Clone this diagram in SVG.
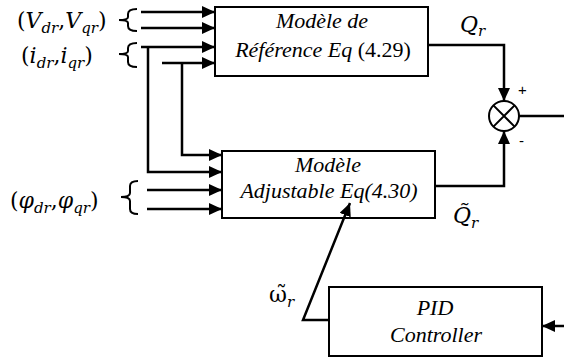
<svg xmlns="http://www.w3.org/2000/svg" width="564" height="358" viewBox="0 0 564 358">
<defs>
<marker id="ah" markerUnits="userSpaceOnUse" markerWidth="13" markerHeight="12" refX="13" refY="6" orient="auto">
<path d="M0,0 L13,6 L0,12 z" fill="#000"/>
</marker>
<style>
.box{fill:#fff;stroke:#000;stroke-width:2}
.ln{fill:none;stroke:#000;stroke-width:2.5}
.br{fill:none;stroke:#000;stroke-width:2}
.bt{font-size:22px;font-style:italic;text-anchor:middle;fill:#000}
.up{font-style:normal}
.m{font-size:22px;fill:#000}
.i{font-style:italic}
.s{font-size:15px;font-style:italic}
.sg{font-size:15px;fill:#000}
</style>
</defs>
<g id="label-v">
<text class="m" font-family="DejaVu Serif, serif" x="17" y="28">(<tspan class="i">V</tspan><tspan class="s" dy="5">dr</tspan><tspan dy="-5">,</tspan><tspan class="i">V</tspan><tspan class="s" dy="5">qr</tspan><tspan dy="-5">)</tspan></text>
</g>
<g id="label-i">
<text class="m" font-family="DejaVu Serif, serif" x="21" y="63">(<tspan class="i">i</tspan><tspan class="s" dy="5">dr</tspan><tspan dy="-5">,</tspan><tspan class="i">i</tspan><tspan class="s" dy="5">qr</tspan><tspan dy="-5">)</tspan></text>
</g>
<g id="label-phi">
<text class="m" font-family="DejaVu Serif, serif" x="10" y="208">(<tspan class="i">φ</tspan><tspan class="s" dy="5">dr</tspan><tspan dy="-5">,</tspan><tspan class="i">φ</tspan><tspan class="s" dy="5">qr</tspan><tspan dy="-5">)</tspan></text>
</g>
<g id="ref-model">
<rect class="box" x="215" y="7" width="213" height="69"/>
<text class="bt" font-family="Liberation Serif, serif" x="322" y="28">Modèle de</text>
<text class="bt" font-family="Liberation Serif, serif" x="323" y="57">Référence Eq <tspan class="up">(4.29)</tspan></text>
</g>
<g id="adj-model">
<rect class="box" x="222" y="151" width="213" height="67"/>
<text class="bt" font-family="Liberation Serif, serif" x="328" y="172">Modèle</text>
<text class="bt" font-family="Liberation Serif, serif" x="329" y="198">Adjustable Eq(4.30)</text>
</g>
<g id="pid">
<rect class="box" x="329" y="287" width="213" height="69"/>
<text class="bt" font-family="Liberation Serif, serif" x="435" y="315">PID</text>
<text class="bt" font-family="Liberation Serif, serif" x="436" y="342">Controller</text>
</g>
<g id="sum">
<circle cx="504" cy="116" r="15" fill="#fff" stroke="#000" stroke-width="2"/>
<path d="M493.4,105.4 L514.6,126.6 M514.6,105.4 L493.4,126.6" stroke="#000" stroke-width="2"/>
<text class="sg" font-family="Liberation Sans, sans-serif" x="518" y="95">+</text>
<text class="sg" font-family="Liberation Sans, sans-serif" x="519" y="146">-</text>
</g>
<g id="label-q">
<text class="m" font-family="DejaVu Serif, serif" x="460" y="32" font-size="19"><tspan class="i">Q</tspan><tspan class="s" dy="4" font-size="14">r</tspan></text>
</g>
<g id="label-qt">
<text class="m" font-family="DejaVu Serif, serif" x="453" y="223" font-size="27"><tspan class="i">Q̃</tspan><tspan class="s" dy="5" font-size="18">r</tspan></text>
</g>
<g id="label-w">
<text class="m" font-family="DejaVu Serif, serif" x="269" y="302" font-size="27">ω̃<tspan class="s" dy="5" font-size="18">r</tspan></text>
</g>
<g id="braces">
<path class="br" d="M137,9 Q128,9 128,14 V17 Q128,20 119,20 Q128,20 128,23 V26 Q128,31 137,31"/>
<path class="br" d="M137,43 Q128,43 128,48 V51 Q128,54 119,54 Q128,54 128,57 V62 Q128,67 137,67"/>
<path class="br" d="M138,181 Q130,181 130,186 V193 Q130,197 121,197 Q130,197 130,201 V209 Q130,214 138,214"/>
</g>
<g id="connectors">
<path class="ln" d="M141,12 H215" marker-end="url(#ah)"/>
<path class="ln" d="M141,28 H215" marker-end="url(#ah)"/>
<path class="ln" d="M141,47 H215" marker-end="url(#ah)"/>
<path class="ln" d="M162,63 H215" marker-end="url(#ah)"/>
<path class="ln" d="M148,47 V172 H222" marker-end="url(#ah)"/>
<path class="ln" d="M182,63 V155 H222" marker-end="url(#ah)"/>
<path class="ln" d="M147,190 H222" marker-end="url(#ah)"/>
<path class="ln" d="M147,209 H222" marker-end="url(#ah)"/>
<path class="ln" d="M428,45 H504 V101" marker-end="url(#ah)"/>
<path class="ln" d="M435,186 H504 V131" marker-end="url(#ah)"/>
<path class="ln" d="M519,116 H564"/>
<path class="ln" d="M329,320 H303 L350,203" marker-end="url(#ah)"/>
<path class="ln" d="M564,326 H542" marker-end="url(#ah)"/>
</g>
</svg>
